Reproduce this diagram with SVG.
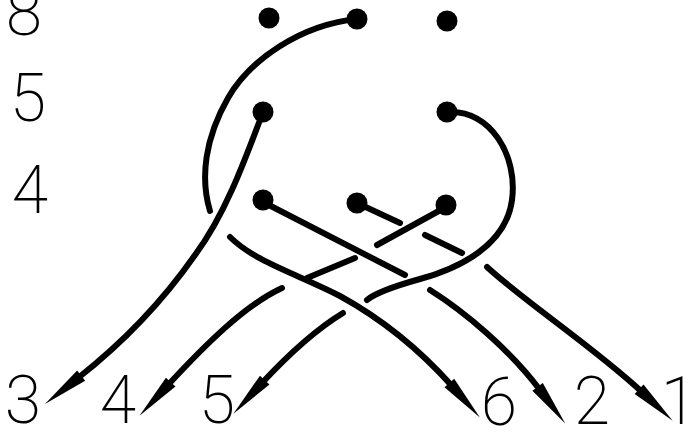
<svg xmlns="http://www.w3.org/2000/svg" width="700" height="433" viewBox="0 0 700 433">
<style>
.s{fill:none;stroke:#000;stroke-width:6;stroke-linecap:round;stroke-linejoin:round}
.d{fill:#000}
.t{font-family:Roboto,"DejaVu Sans",sans-serif;font-weight:200;font-size:66px;fill:#000;text-anchor:middle}
</style>
<defs>
<marker id="ah" markerUnits="userSpaceOnUse" markerWidth="50" markerHeight="16" viewBox="0 -8 50 16" refX="0" refY="0" orient="auto" overflow="visible">
<path d="M-4,-6.5 L42,0 L-4,6.5 Z" fill="#000"/>
</marker>
</defs>
<rect width="700" height="433" fill="#fff"/>
<g id="labels">
<text class="t" x="24" y="35">8</text>
<text class="t" x="28" y="121">5</text>
<text class="t" x="30" y="213">4</text>
<text class="t" x="23" y="423">3</text>
<text class="t" x="118" y="423">4</text>
<text class="t" x="217" y="423">5</text>
<text class="t" x="499" y="425">6</text>
<text class="t" x="592" y="424">2</text>
<text class="t" x="679" y="424">1</text>
</g>
<g id="dots">
<circle id="n8a" class="d" cx="269" cy="18" r="10.5"/>
<circle id="n8b" class="d" cx="357" cy="19" r="10.5"/>
<circle id="n8c" class="d" cx="447" cy="21" r="10.5"/>
<circle id="n5a" class="d" cx="263" cy="112" r="10.5"/>
<circle id="n5c" class="d" cx="447" cy="112" r="10.5"/>
<circle id="n4a" class="d" cx="263" cy="200" r="10.5"/>
<circle id="n4b" class="d" cx="357" cy="203" r="10.5"/>
<circle id="n4c" class="d" cx="446" cy="205" r="10.5"/>
</g>
<g id="connectors">
<path class="s" d="M357,19 C300,25 250,60 228,98 C205,138 200,178 210,211"/>
<path class="s" d="M230,237 C255,262 300,275 340,296 C380,318 420,350 452,386" marker-end="url(#ah)"/>
<path class="s" d="M263,112 C245,160 225,215 195,255 C160,305 120,345 78,378" marker-end="url(#ah)"/>
<path class="s" d="M263,202 L405,275"/>
<path class="s" d="M430,290 C465,312 510,350 540,390" marker-end="url(#ah)"/>
<path class="s" d="M357,203 L400,223 M425,235 L462,253"/>
<path class="s" d="M487,267 C525,302 595,348 642,392" marker-end="url(#ah)"/>
<path class="s" d="M446,207 L377,245 M355,258 L307,278"/>
<path class="s" d="M282,288 C245,305 205,345 168,385" marker-end="url(#ah)"/>
<path class="s" d="M449,112 C490,110 518,155 512,200 C506,245 460,268 420,279 C395,286 375,293 367,300"/>
<path class="s" d="M343,313 C315,330 288,355 262,383" marker-end="url(#ah)"/>
</g>
</svg>
